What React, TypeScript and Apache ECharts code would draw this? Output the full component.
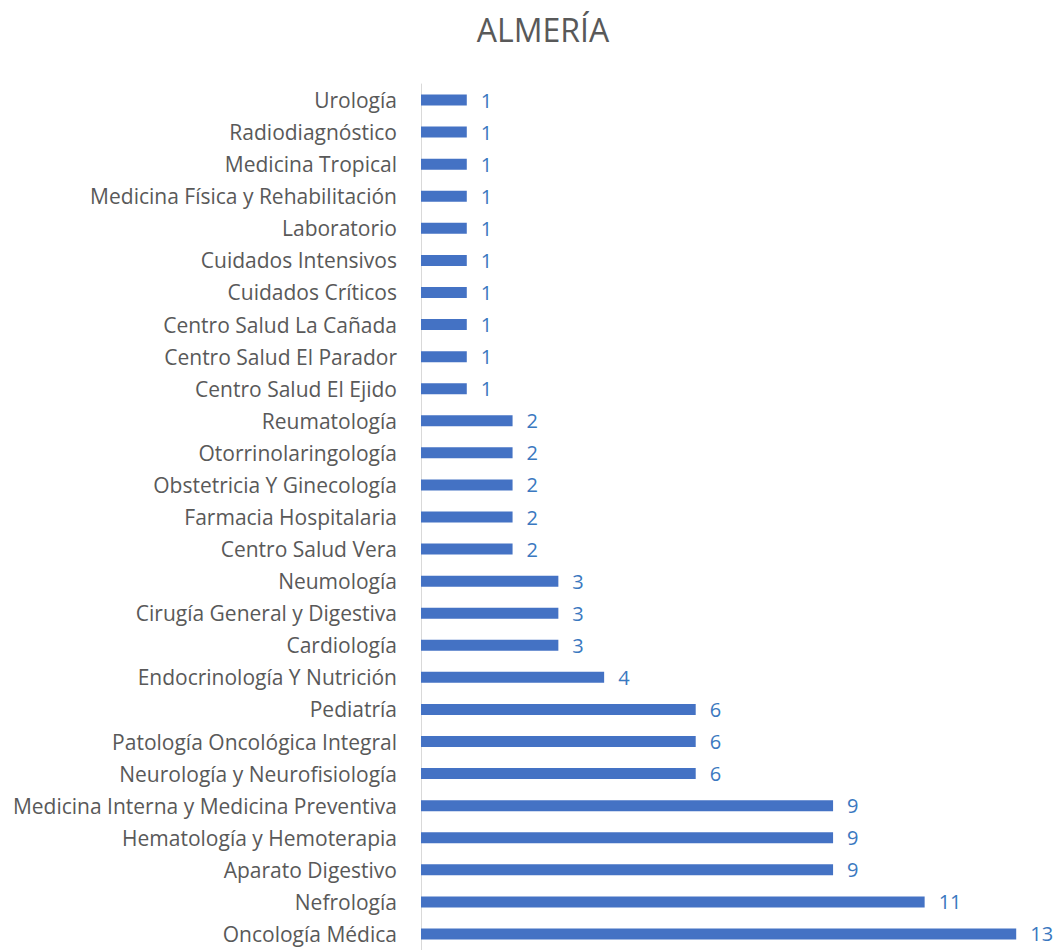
import React, { useEffect, useRef } from "react";
import * as echarts from "echarts";

const categories = [
  "Oncología Médica",
  "Nefrología",
  "Aparato Digestivo",
  "Hematología y Hemoterapia",
  "Medicina Interna y Medicina Preventiva",
  "Neurología y Neurofisiología",
  "Patología Oncológica Integral",
  "Pediatría",
  "Endocrinología Y Nutrición",
  "Cardiología",
  "Cirugía General y Digestiva",
  "Neumología",
  "Centro Salud Vera",
  "Farmacia Hospitalaria",
  "Obstetricia Y Ginecología",
  "Otorrinolaringología",
  "Reumatología",
  "Centro Salud El Ejido",
  "Centro Salud El Parador",
  "Centro Salud La Cañada",
  "Cuidados Críticos",
  "Cuidados Intensivos",
  "Laboratorio",
  "Medicina Física y Rehabilitación",
  "Medicina Tropical",
  "Radiodiagnóstico",
  "Urología",
];

const values = [13, 11, 9, 9, 9, 6, 6, 6, 4, 3, 3, 3, 2, 2, 2, 2, 2, 1, 1, 1, 1, 1, 1, 1, 1, 1, 1];

const titleText = "ALMERÍA";

export default function App() {
  const ref = useRef<HTMLDivElement>(null);
  useEffect(() => {
    if (!ref.current) return;
    const chart = echarts.init(ref.current, null, { renderer: "svg" });
    const font = "'Open Sans', sans-serif";
    chart.setOption({
      animation: false,
      backgroundColor: "#ffffff",
      graphic: [
        {
          type: "text",
          x: 543,
          y: 29,
          style: {
            text: titleText,
            fontFamily: font,
            fontSize: 32,
            fill: "#595959",
            textAlign: "center",
            textVerticalAlign: "middle",
          },
        },
      ],
      grid: { left: 421, top: 84, width: 644, height: 870, containLabel: false },
      xAxis: {
        type: "value",
        min: 0,
        max: 14,
        show: false,
        splitLine: { show: false },
      },
      yAxis: {
        type: "category",
        data: categories,
        axisLine: { show: true, lineStyle: { color: "#d9d9d9", width: 1 } },
        axisTick: { show: false },
        axisLabel: { color: "#595959", fontFamily: font, fontSize: 21, margin: 24 },
      },
      series: [
        {
          type: "bar",
          data: values,
          barWidth: 11,
          itemStyle: { color: "#4472c4" },
          label: {
            show: true,
            position: "right",
            distance: 14,
            color: "#3a78c0",
            fontFamily: font,
            fontSize: 20,
          },
        },
      ],
    });
    return () => chart.dispose();
  }, []);
  return (
    <div
      ref={ref}
      style={{ position: "fixed", left: 0, top: 0, width: 1062, height: 950 }}
    />
  );
}
